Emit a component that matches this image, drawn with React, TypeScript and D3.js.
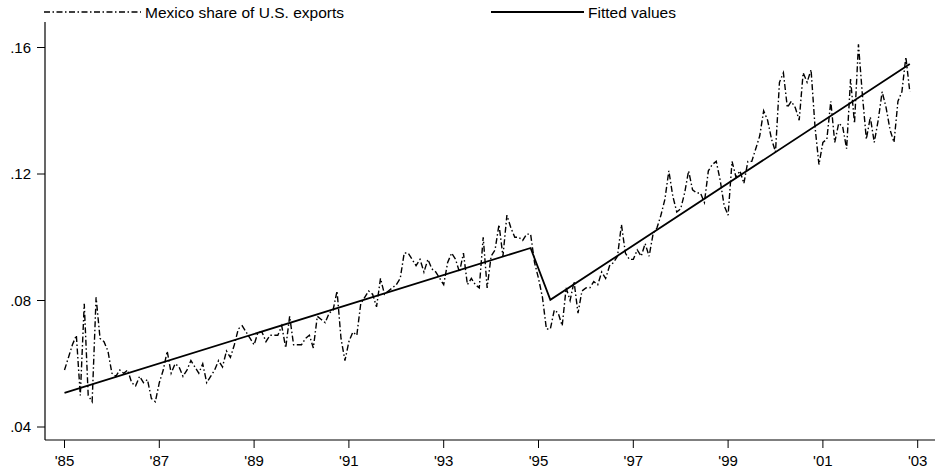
import React from "react";
import * as d3 from "d3";

const startYear = 1985;
// Monthly Mexico share of U.S. exports, 1985m1 - 2002m11
const share: number[] = [
  // 1985
  0.058, 0.062, 0.066, 0.069, 0.050, 0.079, 0.050, 0.048, 0.081, 0.068, 0.067, 0.064,
  // 1986
  0.057, 0.056, 0.058, 0.057, 0.058, 0.054, 0.053, 0.056, 0.054, 0.055, 0.049, 0.048,
  // 1987
  0.054, 0.058, 0.064, 0.057, 0.060, 0.059, 0.056, 0.058, 0.061, 0.059, 0.057, 0.060,
  // 1988
  0.054, 0.056, 0.058, 0.061, 0.059, 0.064, 0.062, 0.066, 0.071, 0.072, 0.070, 0.068,
  // 1989
  0.066, 0.070, 0.070, 0.067, 0.069, 0.069, 0.069, 0.072, 0.065, 0.075, 0.066, 0.066,
  // 1990
  0.066, 0.068, 0.069, 0.065, 0.075, 0.074, 0.073, 0.076, 0.077, 0.083, 0.068, 0.061,
  // 1991
  0.067, 0.070, 0.069, 0.079, 0.081, 0.083, 0.082, 0.078, 0.087, 0.082, 0.083, 0.084,
  // 1992
  0.085, 0.087, 0.095, 0.095, 0.093, 0.091, 0.093, 0.089, 0.093, 0.090, 0.089, 0.087,
  // 1993
  0.085, 0.092, 0.095, 0.093, 0.089, 0.095, 0.085, 0.087, 0.085, 0.084, 0.100, 0.084,
  // 1994
  0.094, 0.096, 0.104, 0.094, 0.107, 0.103, 0.100, 0.100, 0.099, 0.101, 0.101, 0.092,
  // 1995
  0.087, 0.081, 0.071, 0.071, 0.077, 0.076, 0.072, 0.084, 0.080, 0.086, 0.076, 0.083,
  // 1996
  0.084, 0.084, 0.086, 0.085, 0.089, 0.087, 0.091, 0.092, 0.094, 0.104, 0.095, 0.093,
  // 1997
  0.093, 0.096, 0.094, 0.098, 0.094, 0.101, 0.103, 0.107, 0.112, 0.121, 0.113, 0.108,
  // 1998
  0.109, 0.114, 0.121, 0.115, 0.114, 0.114, 0.111, 0.121, 0.123, 0.124, 0.118, 0.110,
  // 1999
  0.107, 0.124, 0.119, 0.121, 0.117, 0.124, 0.124, 0.128, 0.132, 0.140, 0.137, 0.131,
  // 2000
  0.127, 0.149, 0.152, 0.141, 0.143, 0.141, 0.137, 0.152, 0.149, 0.153, 0.135, 0.123,
  // 2001
  0.130, 0.131, 0.143, 0.130, 0.136, 0.135, 0.128, 0.150, 0.136, 0.161, 0.145, 0.131,
  // 2002
  0.138, 0.130, 0.137, 0.146, 0.141, 0.134, 0.130, 0.143, 0.146, 0.157, 0.146,
];

// Fitted values (piecewise linear trend), vertices in months since 1985m1
const fitMonths: number[] = [0, 118, 123, 214];
const fitValues: number[] = [0.0508, 0.0966, 0.0802, 0.1548];

const xTickYears: number[] = [1985, 1987, 1989, 1991, 1993, 1995, 1997, 1999, 2001, 2003];
const xTickLabels: string[] = ["'85", "'87", "'89", "'91", "'93", "'95", "'97", "'99", "'01", "'03"];
const yTickValues: number[] = [0.04, 0.08, 0.12, 0.16];
const yTickLabels: string[] = [".04", ".08", ".12", ".16"];
const legendLabels: string[] = ["Mexico share of U.S. exports", "Fitted values"];

const W = 935;
const H = 473;
const FONT = "'Liberation Sans', Arial, sans-serif";

export default function App() {
  const x = d3.scaleLinear().domain([1985, 2003]).range([64.5, 917.7]);
  const y = d3.scaleLinear().domain([0.04, 0.16]).range([427, 47.5]);
  const axisX = 45;
  const axisY = 440;

  const line = d3
    .line<[number, number]>()
    .x((d) => x(startYear + d[0] / 12))
    .y((d) => y(d[1]));

  const dataPts: [number, number][] = share.map((v, i) => [i, v]);
  const fitPts: [number, number][] = fitMonths.map((m, i) => [m, fitValues[i]]);
  const dashDot = "6,2.5,1.5,2.5";

  return (
    <svg
      width={W}
      height={H}
      style={{ position: "absolute", left: 0, top: 0, background: "#fff" }}
      fontFamily={FONT}
    >
      <rect x={0} y={0} width={W} height={H} fill="#fff" />
      {/* legend */}
      <line x1={44} x2={141} y1={12} y2={12} stroke="#000" strokeWidth={1.3} strokeDasharray={dashDot} />
      <text x={145} y={17.5} fontSize={15.5} fill="#000">{legendLabels[0]}</text>
      <line x1={491} x2={584} y1={12} y2={12} stroke="#000" strokeWidth={1.8} />
      <text x={588} y={17.5} fontSize={15.5} fill="#000">{legendLabels[1]}</text>

      {/* axes */}
      <line x1={axisX} x2={axisX} y1={22} y2={axisY} stroke="#000" strokeWidth={1.2} />
      <line x1={axisX} x2={W} y1={axisY} y2={axisY} stroke="#000" strokeWidth={1.2} />
      {yTickValues.map((v, i) => (
        <g key={"y" + i}>
          <line x1={axisX - 8} x2={axisX} y1={y(v)} y2={y(v)} stroke="#000" strokeWidth={1} />
          <text x={axisX - 14} y={y(v) + 5} fontSize={15} textAnchor="end" fill="#000">
            {yTickLabels[i]}
          </text>
        </g>
      ))}
      {xTickYears.map((yr, i) => (
        <g key={"x" + i}>
          <line x1={x(yr)} x2={x(yr)} y1={axisY} y2={axisY + 8} stroke="#000" strokeWidth={1} />
          <text x={x(yr)} y={axisY + 26} fontSize={15} textAnchor="middle" fill="#000">
            {xTickLabels[i]}
          </text>
        </g>
      ))}

      {/* series */}
      <path d={line(dataPts) || ""} fill="none" stroke="#000" strokeWidth={1.4} strokeDasharray={dashDot} />
      <path d={line(fitPts) || ""} fill="none" stroke="#000" strokeWidth={1.8} />
    </svg>
  );
}
